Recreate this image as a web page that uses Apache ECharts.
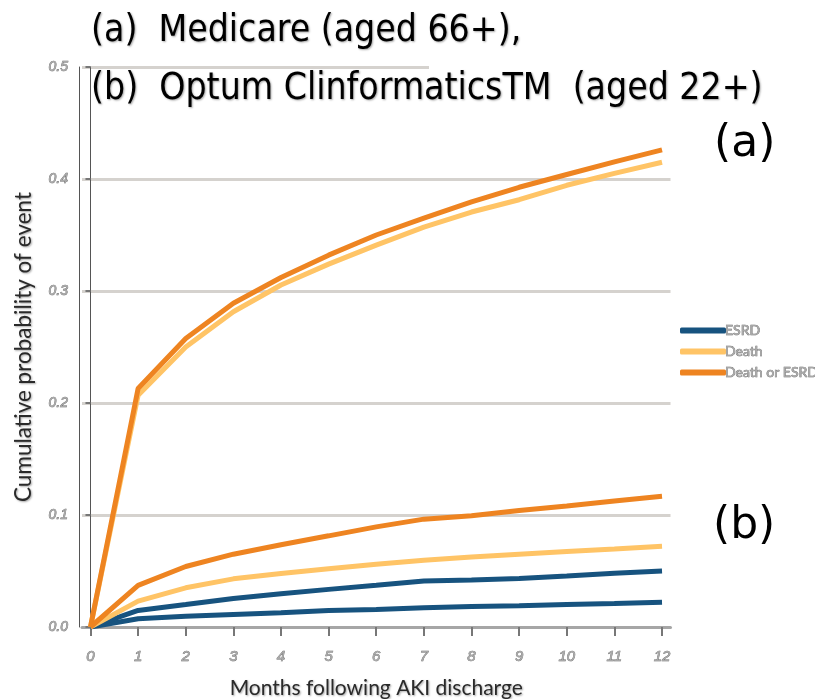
<!DOCTYPE html>
<html>
<head>
<meta charset="utf-8">
<script src="https://cdn.jsdelivr.net/npm/echarts@6/dist/echarts.min.js"></script>
<style>
  html, body { margin: 0; padding: 0; background: #ffffff; }
  #chart { width: 815px; height: 699px; }
</style>
</head>
<body>
<div id="chart"></div>
<script>
// Months after AKI discharge
const months = [0, 1, 2, 3, 4, 5, 6, 7, 8, 9, 10, 11, 12];

// (a) Medicare, aged 66+
const medicareEsrd      = [0, 0.0073, 0.0097, 0.0112, 0.0127, 0.0148, 0.0157, 0.0172, 0.0184, 0.0190, 0.0202, 0.0210, 0.0222];
const medicareDeath     = [0, 0.207, 0.250, 0.2815, 0.3054, 0.324, 0.341, 0.357, 0.3705, 0.3815, 0.3944, 0.405, 0.415];
const medicareDeathEsrd = [0, 0.213, 0.2576, 0.289, 0.312, 0.332, 0.350, 0.365, 0.3795, 0.3926, 0.404, 0.4153, 0.426];

// (b) Optum Clinformatics, aged 22+
const optumEsrd      = [0, 0.0148, 0.020, 0.0255, 0.0297, 0.0336, 0.0372, 0.0410, 0.0420, 0.0432, 0.0455, 0.0480, 0.0500];
const optumDeath     = [0, 0.0231, 0.035, 0.043, 0.0477, 0.052, 0.056, 0.0596, 0.0625, 0.065, 0.0674, 0.0697, 0.0721];
const optumDeathEsrd = [0, 0.0372, 0.054, 0.065, 0.0735, 0.0814, 0.0894, 0.0963, 0.0993, 0.104, 0.108, 0.1125, 0.1167];

const seriesNames = ['ESRD', 'Death', 'Death or ESRD'];
const seriesColors = ['#17537f', '#ffc466', '#ee8421'];

const pairs = vals => months.map((m, i) => [m, vals[i]]);

const tickText = {
  fontFamily: 'Liberation Sans',
  fontStyle: 'italic',
  color: '#a8a8a8',
  textBorderColor: '#5e5e5e',
  textBorderWidth: 0.6
};
const titleShadow = {
  textShadowColor: 'rgba(0,0,0,0.35)',
  textShadowBlur: 2,
  textShadowOffsetX: 1,
  textShadowOffsetY: 1
};

function line(name, idx, vals) {
  return {
    name: name,
    type: 'line',
    data: pairs(vals),
    showSymbol: false,
    symbol: 'none',
    lineStyle: { width: 5, color: seriesColors[idx] },
    itemStyle: { color: seriesColors[idx] },
    z: 3 + idx,
    animation: false
  };
}

const chart = echarts.init(document.getElementById('chart'), null, { renderer: 'canvas' });
chart.setOption({
  backgroundColor: '#ffffff',
  animation: false,
  grid: { left: 82, right: 144.5, top: 67, bottom: 72, outerBoundsMode: 'none', containLabel: false },
  title: [
    {
      text: '(a)  Medicare (aged 66+),',
      left: 86, top: 8,
      textStyle: Object.assign({ fontFamily: 'DejaVu Sans Condensed', fontSize: 37, fontWeight: 'normal', color: '#000' }, titleShadow)
    },
    {
      text: '(b)  Optum ClinformaticsTM  (aged 22+)',
      left: 86, top: 66,
      textStyle: Object.assign({ fontFamily: 'DejaVu Sans Condensed', fontSize: 37, fontWeight: 'normal', color: '#000' }, titleShadow)
    },
    {
      text: '(a)',
      left: 709, top: 118,
      textStyle: { fontFamily: 'DejaVu Sans', fontSize: 44, fontWeight: 'normal', color: '#000' }
    },
    {
      text: '(b)',
      left: 708, top: 500,
      textStyle: { fontFamily: 'DejaVu Sans', fontSize: 44, fontWeight: 'normal', color: '#000' }
    }
  ],
  legend: {
    data: seriesNames,
    orient: 'vertical',
    left: 675,
    top: 318,
    itemWidth: 46,
    itemHeight: 6,
    itemGap: 6,
    icon: 'roundRect',
    textStyle: Object.assign({}, tickText, { fontFamily: 'Lato', fontStyle: 'normal', fontSize: 14, lineHeight: 15, padding: [0, 0, 0, -6] })
  },
  xAxis: {
    type: 'value',
    min: -0.178,
    max: 12.178,
    name: 'Months following AKI discharge',
    nameLocation: 'middle',
    nameGap: 51,
    nameTextStyle: Object.assign({ fontFamily: 'Lato', fontSize: 21, color: '#2a2a2a' }, titleShadow),
    axisLine: { show: true, onZero: false, lineStyle: { color: '#a6a6a6', width: 3 } },
    axisTick: { show: true, customValues: months, length: 9, lineStyle: { color: '#777', width: 2 } },
    axisLabel: Object.assign({ customValues: months, fontSize: 15, margin: 22 }, tickText),
    splitLine: { show: false }
  },
  yAxis: [
    {
      type: 'value',
      min: 0,
      max: 0.5,
      interval: 0.1,
      name: 'Cumulative probability of event',
      nameLocation: 'middle',
      nameGap: 47,
      nameTextStyle: Object.assign({ fontFamily: 'Lato', fontSize: 22.5, color: '#2a2a2a' }, titleShadow),
      axisLine: { show: true, lineStyle: { color: '#555', width: 1 } },
      axisTick: { show: true, length: 5, lineStyle: { color: '#777', width: 2 } },
      axisLabel: Object.assign({ fontSize: 14, margin: 14, formatter: v => v.toFixed(1) }, tickText),
      splitLine: { show: true, lineStyle: { color: '#d5d2ce', width: 3 } }
    },
    {
      // second thin rule giving the double-line look of the vertical axis
      type: 'value',
      min: 0,
      max: 0.5,
      position: 'left',
      offset: 2.5,
      axisLine: { show: true, lineStyle: { color: '#555', width: 1 } },
      axisTick: { show: false },
      axisLabel: { show: false },
      splitLine: { show: false }
    }
  ],
  graphic: [
    {
      type: 'rect',
      z: 5,
      shape: { x: 429, y: 61, width: 260, height: 12 },
      style: { fill: '#ffffff' }
    }
  ],
  series: [
    line('ESRD', 0, medicareEsrd),
    line('ESRD', 0, optumEsrd),
    line('Death', 1, medicareDeath),
    line('Death', 1, optumDeath),
    line('Death or ESRD', 2, medicareDeathEsrd),
    line('Death or ESRD', 2, optumDeathEsrd)
  ]
});
</script>
</body>
</html>
